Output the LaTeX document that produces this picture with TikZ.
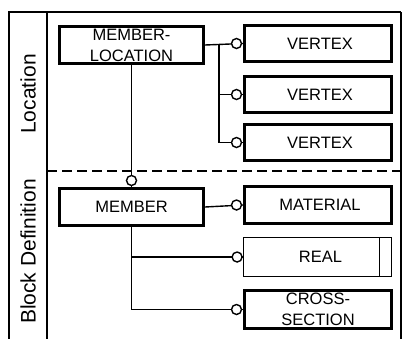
\documentclass[tikz,border=0pt]{standalone}
\usepackage{fontspec}
\setmainfont{Liberation Sans}
\usetikzlibrary{calc}
\begin{document}
\begin{tikzpicture}[x=1pt,y=-1pt,
  ent/.style={draw,line width=3pt,minimum width=144pt,minimum height=37pt,inner sep=0pt,
    align=center,font=\fontsize{16.5}{21}\selectfont},
  thinent/.style={draw,line width=1.4pt,minimum width=148pt,minimum height=39pt,inner sep=0pt,
    align=center,font=\fontsize{16.5}{21}\selectfont},
  conn/.style={line width=1.4pt},
  endcirc/.style={line width=1.4pt,fill=white},
  frame/.style={line width=2.6pt},
  lane/.style={rotate=90,font=\fontsize{21}{24}\selectfont}]
\useasboundingbox (0,0) rectangle (403,338);
% frame
\draw[frame] (9,339) -- (9,12) -- (401,12);
\draw[line width=1.5pt] (401,12) -- (401,339);
\draw[frame] (47,12) -- (47,339);
\draw[line width=1.6pt,dash pattern=on 10pt off 5pt] (47,171) -- (403,171);
\node[lane] (loc) at (28,94) {Location};
\node[lane] (blk) at (28,251.5) {Block Definition};
% boxes
\node[ent] (ml) at (131.5,45) {MEMBER-\\LOCATION};
\node[ent,minimum width=147pt,minimum height=36pt] (v1) at (318,43.5) {\hspace*{4pt}VERTEX};
\node[ent,minimum width=147pt,minimum height=36pt] (v2) at (318,94.5) {\hspace*{4pt}VERTEX};
\node[ent,minimum width=147pt,minimum height=36pt] (v3) at (318,142.5) {\hspace*{4pt}VERTEX};
\node[ent] (m) at (131.5,207) {MEMBER};
\node[ent,minimum width=147pt] (mat) at (318,205) {\hspace*{4pt}MATERIAL};
\node[thinent] (real) at (317.5,257) {\hspace*{6pt}REAL};
\draw[line width=1.4pt] ($(real.north east)+(-13,0)$) -- ($(real.south east)+(-13,0)$);
\node[ent,minimum width=147pt,minimum height=38pt] (cs) at (318,309.5) {CROSS-\\SECTION};
% connectors
\coordinate (tr) at (219,0);
\draw[conn] (ml.east) -- (v1.west);
\draw[conn] (ml.east -| tr) |- (v2.west);
\draw[conn] (ml.east -| tr) |- (v3.west);
\draw[endcirc] ($(v1.west)+(-6.5,0)$) circle (5pt);
\draw[endcirc] ($(v2.west)+(-6.5,0)$) circle (5pt);
\draw[endcirc] ($(v3.west)+(-6.5,0)$) circle (5pt);
\draw[conn] (ml.south) -- (m.north);
\draw[endcirc] ($(m.north)+(0,-6.5)$) circle (5pt);
\draw[conn] (m.east) -- (mat.west);
\draw[endcirc] ($(mat.west)+(-6.5,0)$) circle (5pt);
\draw[conn] (m.south) |- (real.west);
\draw[conn] (m.south) |- (cs.west);
\draw[endcirc] ($(real.west)+(-5.7,0)$) circle (5pt);
\draw[endcirc] ($(cs.west)+(-6.5,0)$) circle (5pt);
\end{tikzpicture}
\end{document}
